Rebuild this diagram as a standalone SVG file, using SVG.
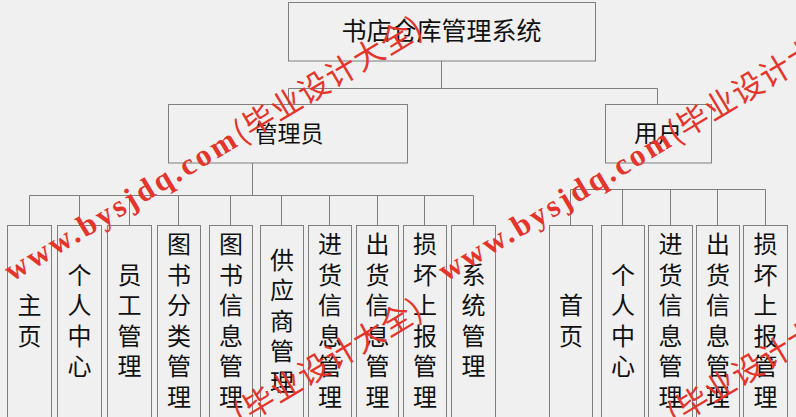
<svg xmlns="http://www.w3.org/2000/svg" xmlns:xlink="http://www.w3.org/1999/xlink" width="796" height="417" viewBox="0 0 796 417">
<style>
.bx{fill:#f0f0f0;stroke:#7f7f7f;stroke-width:1}
.ln{fill:none;stroke:#7f7f7f;stroke-width:1}
.t{font-family:"Noto Sans CJK SC","Noto Sans",sans-serif;fill:#111;text-anchor:middle}
.c{font-size:24px}
.wm{font-family:"Liberation Serif","Noto Sans CJK SC",serif;font-size:31px;font-weight:bold;fill:#e4342b;letter-spacing:3px}
.wmc{font-family:"Noto Sans CJK SC",sans-serif;font-weight:normal;letter-spacing:1px}
</style>
<defs>
<text id="wm" class="wm" x="0" y="0">www.bysjdq.com<tspan class="wmc">(毕业设计大全)</tspan></text>
</defs>
<rect x="0" y="0" width="796" height="417" fill="#f0f0f0"/>
<g id="connectors">
<path class="ln" d="M441.5,61 V88.5 M288.5,88.5 H657.5 M288.5,88.5 V104 M657.5,88.5 V104"/>
<path class="ln" d="M252.5,163 V195.5 M29.5,195.5 H473.5 M29.5,195.5 V225 M79.5,195.5 V225 M129.5,195.5 V225 M178.5,195.5 V225 M230.5,195.5 V225 M281.5,195.5 V225 M329.5,195.5 V225 M377.5,195.5 V225 M424.5,195.5 V225 M473.5,195.5 V225"/>
<path class="ln" d="M570.5,189.5 H765.5 M570.5,189.5 V225 M622.5,189.5 V225 M670.5,189.5 V225 M717.5,189.5 V225 M765.5,189.5 V225"/>
</g>
<g id="root"><rect class="bx" x="288.5" y="2.5" width="307" height="58.5"/><text class="t" x="441.5" y="40" font-size="25">书店仓库管理系统</text></g>
<g id="admin"><rect class="bx" x="168.5" y="104.5" width="239" height="58.5"/><text class="t" x="289" y="142" font-size="23">管理员</text></g>
<g id="user"><rect class="bx" x="605.5" y="104.5" width="106" height="58.5"/><text class="t" x="658" y="142" font-size="24">用户</text></g>
<g id="a1"><rect class="bx" x="7.5" y="225.5" width="44" height="200"/><text class="t c" x="29.5" y="314.4">主</text><text class="t c" x="29.5" y="344.9">页</text></g>
<g id="a2"><rect class="bx" x="57.5" y="225.5" width="44" height="200"/><text class="t c" x="79.5" y="283.9">个</text><text class="t c" x="79.5" y="314.4">人</text><text class="t c" x="79.5" y="344.9">中</text><text class="t c" x="79.5" y="375.4">心</text></g>
<g id="a3"><rect class="bx" x="107.5" y="225.5" width="44" height="200"/><text class="t c" x="129.5" y="283.9">员</text><text class="t c" x="129.5" y="314.4">工</text><text class="t c" x="129.5" y="344.9">管</text><text class="t c" x="129.5" y="375.4">理</text></g>
<g id="a4"><rect class="bx" x="157.5" y="225.5" width="43" height="200"/><text class="t c" x="179" y="253.4">图</text><text class="t c" x="179" y="283.9">书</text><text class="t c" x="179" y="314.4">分</text><text class="t c" x="179" y="344.9">类</text><text class="t c" x="179" y="375.4">管</text><text class="t c" x="179" y="405.9">理</text></g>
<g id="a5"><rect class="bx" x="209.5" y="225.5" width="43" height="200"/><text class="t c" x="231" y="253.4">图</text><text class="t c" x="231" y="283.9">书</text><text class="t c" x="231" y="314.4">信</text><text class="t c" x="231" y="344.9">息</text><text class="t c" x="231" y="375.4">管</text><text class="t c" x="231" y="405.9">理</text></g>
<g id="a6"><rect class="bx" x="260.5" y="225.5" width="43" height="200"/><text class="t c" x="282" y="268.6">供</text><text class="t c" x="282" y="299.1">应</text><text class="t c" x="282" y="329.6">商</text><text class="t c" x="282" y="360.1">管</text><text class="t c" x="282" y="390.6">理</text></g>
<g id="a7"><rect class="bx" x="308.5" y="225.5" width="43" height="200"/><text class="t c" x="330" y="253.4">进</text><text class="t c" x="330" y="283.9">货</text><text class="t c" x="330" y="314.4">信</text><text class="t c" x="330" y="344.9">息</text><text class="t c" x="330" y="375.4">管</text><text class="t c" x="330" y="405.9">理</text></g>
<g id="a8"><rect class="bx" x="356.5" y="225.5" width="42" height="200"/><text class="t c" x="377.5" y="253.4">出</text><text class="t c" x="377.5" y="283.9">货</text><text class="t c" x="377.5" y="314.4">信</text><text class="t c" x="377.5" y="344.9">息</text><text class="t c" x="377.5" y="375.4">管</text><text class="t c" x="377.5" y="405.9">理</text></g>
<g id="a9"><rect class="bx" x="403.5" y="225.5" width="43" height="200"/><text class="t c" x="425" y="253.4">损</text><text class="t c" x="425" y="283.9">坏</text><text class="t c" x="425" y="314.4">上</text><text class="t c" x="425" y="344.9">报</text><text class="t c" x="425" y="375.4">管</text><text class="t c" x="425" y="405.9">理</text></g>
<g id="a10"><rect class="bx" x="451.5" y="225.5" width="44" height="200"/><text class="t c" x="473.5" y="283.9">系</text><text class="t c" x="473.5" y="314.4">统</text><text class="t c" x="473.5" y="344.9">管</text><text class="t c" x="473.5" y="375.4">理</text></g>
<g id="u1"><rect class="bx" x="549.5" y="225.5" width="43" height="200"/><text class="t c" x="571" y="314.4">首</text><text class="t c" x="571" y="344.9">页</text></g>
<g id="u2"><rect class="bx" x="601.5" y="225.5" width="43" height="200"/><text class="t c" x="623" y="283.9">个</text><text class="t c" x="623" y="314.4">人</text><text class="t c" x="623" y="344.9">中</text><text class="t c" x="623" y="375.4">心</text></g>
<g id="u3"><rect class="bx" x="648.5" y="225.5" width="44" height="200"/><text class="t c" x="670.5" y="253.4">进</text><text class="t c" x="670.5" y="283.9">货</text><text class="t c" x="670.5" y="314.4">信</text><text class="t c" x="670.5" y="344.9">息</text><text class="t c" x="670.5" y="375.4">管</text><text class="t c" x="670.5" y="405.9">理</text></g>
<g id="u4"><rect class="bx" x="696.5" y="225.5" width="43" height="200"/><text class="t c" x="718" y="253.4">出</text><text class="t c" x="718" y="283.9">货</text><text class="t c" x="718" y="314.4">信</text><text class="t c" x="718" y="344.9">息</text><text class="t c" x="718" y="375.4">管</text><text class="t c" x="718" y="405.9">理</text></g>
<g id="u5"><rect class="bx" x="743.5" y="225.5" width="44" height="200"/><text class="t c" x="765.5" y="253.4">损</text><text class="t c" x="765.5" y="283.9">坏</text><text class="t c" x="765.5" y="314.4">上</text><text class="t c" x="765.5" y="344.9">报</text><text class="t c" x="765.5" y="375.4">管</text><text class="t c" x="765.5" y="405.9">理</text></g>
<g id="watermark">
<use xlink:href="#wm" transform="translate(12,282) rotate(-31)"/>
<use xlink:href="#wm" transform="translate(446,282) rotate(-31)"/>
<use xlink:href="#wm" transform="translate(12,564) rotate(-31)"/>
<use xlink:href="#wm" transform="translate(446,564) rotate(-31)"/>
</g>
</svg>
